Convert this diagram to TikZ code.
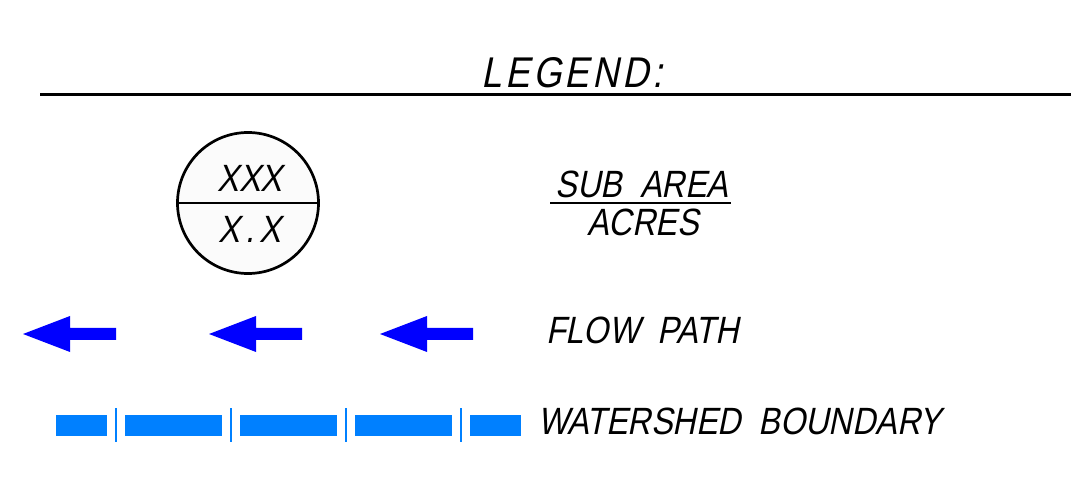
\documentclass[tikz,border=0pt]{standalone}
\usepackage{fontspec}
\newfontfamily\cadfont[FakeStretch=0.85,FakeSlant=0.2]{Liberation Sans}
\newfontfamily\cadtitlefont[FakeStretch=0.85,FakeSlant=0.2,LetterSpace=8]{Liberation Sans}
\definecolor{flowblue}{HTML}{0000FF}
\definecolor{wsblue}{HTML}{0080FF}
\definecolor{circfill}{HTML}{FBFBFB}
\tikzset{
  lbl/.style={inner sep=0pt, font=\cadfont\fontsize{38}{38}\selectfont},
  flowarrow/.style={fill=flowblue, draw=none},
  wsseg/.style={fill=wsblue, draw=none},
  wstick/.style={draw=wsblue, line width=2pt},
}
\begin{document}
\begin{tikzpicture}[x=1pt,y=-1pt]
\useasboundingbox (0,0) rectangle (1071,486);
% title
\node[inner sep=0pt, font=\cadtitlefont\fontsize{43}{43}\selectfont, anchor=base] (title) at (572,88) {LEGEND:};
\coordinate (hl) at (40,95);
\coordinate (hr) at (1071,95);
\draw[line width=3pt] (hl) -- (hr);
% circle symbol
\node[circle, draw, line width=2.7pt, fill=circfill, minimum size=141pt, inner sep=0pt] (circ) at (248,203) {};
\draw[line width=2.7pt] (circ.west) -- (circ.east);
\node[lbl, anchor=base] (xxx) at (250,192) {XXX};
\node[lbl, anchor=base] (xx) at (250,243) {X\hspace{5pt}.\hspace{5pt}X};
% sub area
\node[lbl, anchor=base] (sub) at (642,198) {SUB\ \ AREA};
\node[lbl, anchor=base] (acres) at (643,236) {ACRES};
\coordinate (fl) at (550,203);
\coordinate (fr) at (731,203);
\draw[line width=2pt] (fl) -- (fr);
% flow arrows
\foreach \t/\n in {23/a1,209/a2,380/a3}{
  \fill[flowarrow] (\t,334) -- (\t+47,316) -- (\t+47,328) -- (\t+93,328) -- (\t+93,340) -- (\t+47,340) -- (\t+47,352) -- cycle;
}
\node[lbl, anchor=base west] (flow) at (546,343) {FLOW\ \ PATH};
% watershed boundary
\foreach \a/\b in {56/107,125/222,240/337,355/452,470/521}{
  \fill[wsseg] (\a,415) rectangle (\b,436);
}
\foreach \x in {116,231,346,461}{
  \draw[wstick] (\x,408) -- (\x,442);
}
\node[lbl, anchor=base west] (ws) at (538,434) {WATERSHED\ \ BOUNDARY};
\end{tikzpicture}
\end{document}
